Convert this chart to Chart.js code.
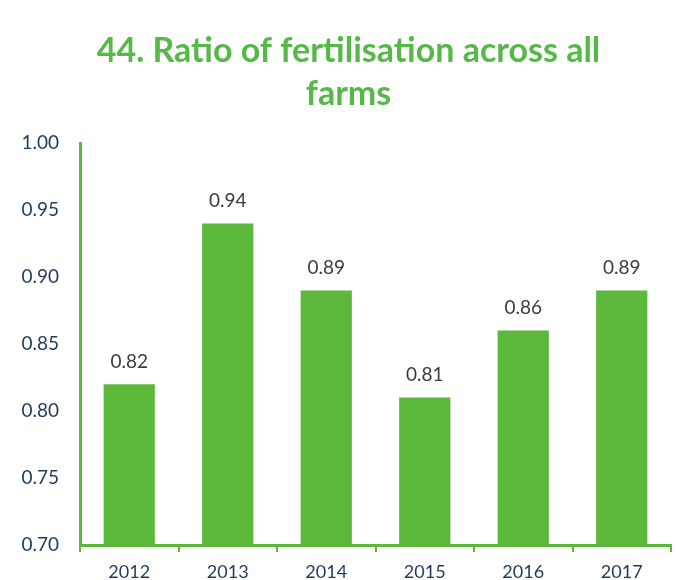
<!DOCTYPE html>
<html>
<head>
<meta charset="utf-8">
<script src="https://cdn.jsdelivr.net/npm/chart.js@4/dist/chart.umd.min.js"></script>
<style>
  html, body { margin: 0; padding: 0; background: #ffffff; }
  #wrap { width: 677px; height: 580px; }
</style>
</head>
<body>
<div id="wrap"><canvas id="c" width="677" height="580"></canvas></div>
<script>
// Ratio of fertilisation across all farms, by year
const years = ['2012', '2013', '2014', '2015', '2016', '2017'];
const ratios = [0.82, 0.94, 0.89, 0.81, 0.86, 0.89];
const yTicks = [0.70, 0.75, 0.80, 0.85, 0.90, 0.95, 1.00];

const GREEN = '#5cb83a';
const NAVY = '#1f3a5f';

// Writes each bar's value just above it
const valueLabels = {
  id: 'valueLabels',
  afterDatasetsDraw(chart) {
    const ctx = chart.ctx;
    const meta = chart.getDatasetMeta(0);
    ctx.save();
    ctx.font = '19px Lato';
    ctx.fillStyle = '#3c3c3c';
    ctx.textAlign = 'center';
    ctx.textBaseline = 'bottom';
    meta.data.forEach((bar, i) => {
      ctx.fillText(ratios[i].toFixed(2), bar.x, bar.y - 13);
    });
    ctx.restore();
  }
};

// Centres the title a little to the right, over the plot rather than the axis labels
const titleShift = {
  id: 'titleShift',
  afterLayout(chart) {
    if (chart.titleBlock) chart.titleBlock.left = 26;
  }
};

new Chart(document.getElementById('c'), {
  type: 'bar',
  data: {
    labels: years,
    datasets: [{
      data: ratios,
      backgroundColor: GREEN,
      borderWidth: 0,
      barPercentage: 0.52,
      categoryPercentage: 1.0
    }]
  },
  options: {
    responsive: false,
    animation: false,
    layout: { padding: { left: 0, right: 6, top: 0, bottom: 0 } },
    plugins: {
      legend: { display: false },
      tooltip: { enabled: false },
      title: {
        display: true,
        text: ['44. Ratio of fertilisation across all', 'farms'],
        color: '#56b947',
        font: { family: 'Lato', size: 34, weight: 'bold', lineHeight: 1.25 },
        padding: { top: 30, bottom: 28 }
      }
    },
    scales: {
      x: {
        afterFit(scale) { scale.height = 35; },
        border: { display: true, color: GREEN, width: 3 },
        grid: {
          display: true,
          drawOnChartArea: false,
          drawTicks: true,
          tickLength: 7,
          color: GREEN,
          lineWidth: 2,
          offset: true
        },
        ticks: {
          color: NAVY,
          font: { family: 'Lato', size: 18 },
          padding: 9
        }
      },
      y: {
        min: 0.70,
        max: 1.00,
        afterFit(scale) { scale.width = 80; },
        afterBuildTicks(scale) {
          scale.ticks = yTicks.map(v => ({ value: v }));
        },
        border: { display: true, color: GREEN, width: 3 },
        grid: { display: false },
        ticks: {
          color: NAVY,
          font: { family: 'Lato', size: 19 },
          padding: 13,
          callback: v => Number(v).toFixed(2)
        }
      }
    }
  },
  plugins: [valueLabels, titleShift]
});
</script>
</body>
</html>
